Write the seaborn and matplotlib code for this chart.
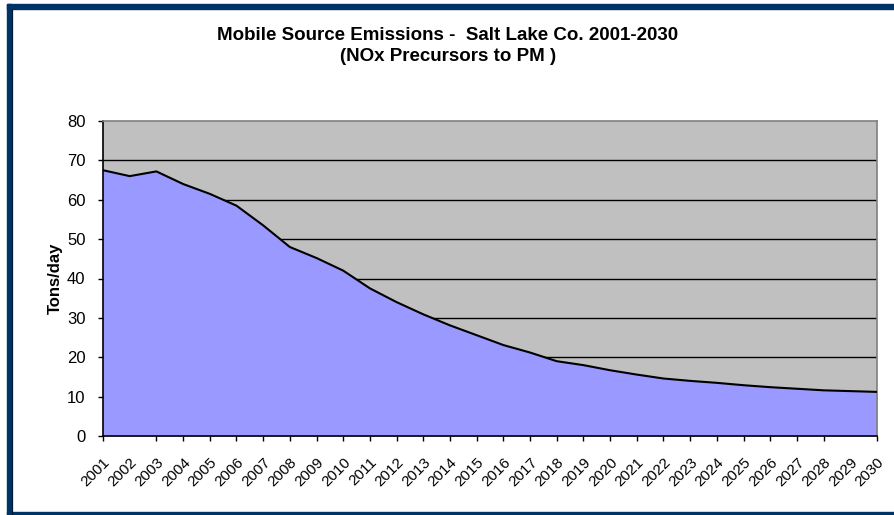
import matplotlib
matplotlib.use("Agg")
import matplotlib.pyplot as plt
import seaborn as sns
import pandas as pd
from matplotlib.lines import Line2D
from matplotlib.patches import Rectangle

years = list(range(2001, 2031))
emissions = [67.5, 66.0, 67.2, 64.0, 61.5, 58.5, 53.5, 48.0, 45.2, 42.0,
             37.5, 34.0, 30.9, 28.1, 25.6, 23.1, 21.2, 19.0, 18.0, 16.7,
             15.6, 14.6, 14.0, 13.5, 12.9, 12.4, 12.0, 11.6, 11.4, 11.2]
y_ticks = [0, 10, 20, 30, 40, 50, 60, 70, 80]
title = "Mobile Source Emissions -  Salt Lake Co. 2001-2030\n(NOx Precursors to PM )"
ylabel = "Tons/day"

df = pd.DataFrame({"year": years, "tons": emissions})

sns.set_theme(style="white")
plt.rcParams["font.family"] = ["Liberation Sans", "DejaVu Sans"]
plt.rcParams["text.color"] = "black"
plt.rcParams["axes.labelcolor"] = "black"
plt.rcParams["xtick.color"] = "black"
plt.rcParams["ytick.color"] = "black"

fig = plt.figure(figsize=(8.94, 5.15), dpi=100)
ax = fig.add_axes([103/894, 1 - 436/515, (877 - 103)/894, (436 - 121)/515])
ax.set_facecolor("#C0C0C0")

for v in y_ticks[1:-1]:
    ax.axhline(v, color="black", lw=1.0, zorder=1)

ax.fill_between(df["year"], df["tons"], 0, color="#9999FF", zorder=2, lw=0)
sns.lineplot(data=df, x="year", y="tons", ax=ax, color="black", lw=1.5, zorder=3)

ax.set_xlim(2001, 2030)
ax.set_ylim(0, 80)
ax.set_yticks(y_ticks)
ax.set_yticklabels([str(v) for v in y_ticks], fontsize=12)
ax.set_xticks(years)
ax.set_xticklabels([str(y) for y in years], fontsize=11, rotation=45,
                   ha="right", va="top", rotation_mode="anchor")
ax.tick_params(axis="both", direction="out", length=3.6, width=1, color="black",
               labelcolor="black", bottom=True, left=True)
ax.tick_params(axis="x", pad=10)
ax.tick_params(axis="y", pad=9)
ticks = ax.xaxis.get_major_ticks()
ticks[1].tick1line.set_visible(False)
ticks[-2].tick1line.set_visible(False)

ax.set_xlabel("")
ax.set_ylabel(ylabel, fontsize=12, fontweight="bold", labelpad=3, color="black")

for side in ["left", "bottom"]:
    ax.spines[side].set_color("black")
    ax.spines[side].set_linewidth(1.2)
for side in ["top", "right"]:
    ax.spines[side].set_color("#808080")
    ax.spines[side].set_linewidth(1.2)
    ax.spines[side].set_visible(True)

fig.text(448/894, 1 - 46/515, title, ha="center", va="center",
         fontsize=13.5, fontweight="bold", linespacing=1.3, color="black")

navy = "#003366"
W, H = 894, 515
# top band
fig.patches.append(Rectangle((7/W, 1 - 9/H), 1, 5/H, transform=fig.transFigure,
                             color=navy, zorder=0))
# left band
fig.patches.append(Rectangle((7/W, 0), 4/W, 1 - 4/H, transform=fig.transFigure,
                             color=navy, zorder=0))
# inner thin line
fig.lines.append(Line2D([12.2/W, 12.2/W], [0, 1 - 9/H], transform=fig.transFigure,
                        color="#001a33", lw=0.9))
# bottom line
fig.patches.append(Rectangle((7/W, 1/H), 1, 2/H, transform=fig.transFigure,
                             color=navy, zorder=0))

fig.savefig("out.png", dpi=100)
